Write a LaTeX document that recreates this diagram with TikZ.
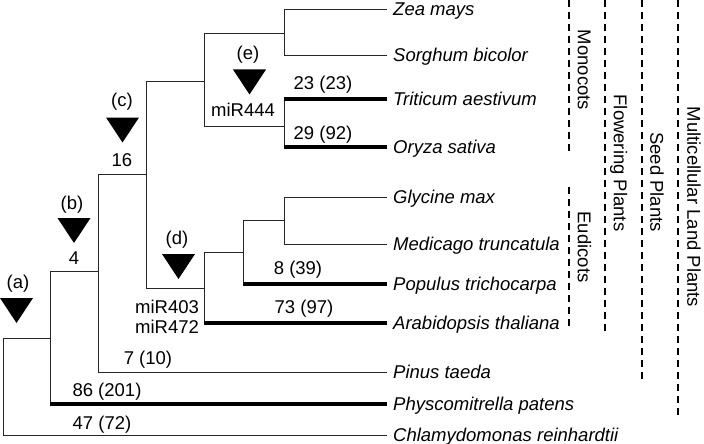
\documentclass[tikz,border=0pt]{standalone}
\usepackage{fontspec}
\setmainfont{Liberation Sans}
\usepackage{tikz}
\usetikzlibrary{positioning}
\newcommand{\treefont}{\fontsize{18.5}{21}\selectfont}
\tikzstyle{branch} = [line width=0.8pt, draw=black!85]
\tikzstyle{gain} = [line width=4pt, draw=black]
\tikzstyle{taxon} = [anchor=west, inner xsep=6pt, inner ysep=0pt, font=\treefont\itshape]
\tikzstyle{count} = [inner sep=0pt]
\tikzstyle{loss} = [fill=black]
\tikzstyle{clade} = [line width=2pt, dash pattern=on 7pt off 5pt]
\tikzstyle{cladename} = [rotate=-90, inner sep=0pt]

\begin{document}
\begin{tikzpicture}[x=1pt, y=-1pt, font=\treefont,
	every node/.append style={text height=13.2pt, text depth=0pt}]
	\useasboundingbox (0,0) rectangle (704,444);

	% leaves
	\node(zea) at (387, 9) [taxon] {Zea mays};
	\node(sorghum) at (387, 55) [taxon] {Sorghum bicolor};
	\node(triticum) at (387, 99) [taxon] {Triticum aestivum};
	\node(oryza) at (387, 147) [taxon] {Oryza sativa};
	\node(glycine) at (387, 197) [taxon] {Glycine max};
	\node(medicago) at (387, 244) [taxon] {Medicago truncatula};
	\node(populus) at (387, 284) [taxon] {Populus trichocarpa};
	\node(arabidopsis) at (387, 323) [taxon] {Arabidopsis thaliana};
	\node(pinus) at (387, 372) [taxon] {Pinus taeda};
	\node(physco) at (387, 404) [taxon] {Physcomitrella patens};
	\node(chlamy) at (387, 435) [taxon] {Chlamydomonas reinhardtii};

	% internal nodes
	\coordinate(root) at (3, 386);
	\coordinate(land) at (50, 338);
	\coordinate(seed) at (98, 271);
	\coordinate(flower) at (146, 174);
	\coordinate(mono) at (204, 81);
	\coordinate(zs) at (284, 33);
	\coordinate(to) at (284, 126);
	\coordinate(eud) at (204, 288);
	\coordinate(gmp) at (243, 252);
	\coordinate(gm) at (284, 220);

	% verticals
	\draw [branch] (root |- land) -- (root |- chlamy.west);
	\draw [branch] (land |- seed) -- (land |- physco.west);
	\draw [branch] (seed |- flower) -- (seed |- pinus.west);
	\draw [branch] (flower |- mono) -- (flower |- eud);
	\draw [branch] (mono |- zs) -- (mono |- to);
	\draw [branch] (zs |- zea.west) -- (zs |- sorghum.west);
	\draw [branch] (to |- triticum.west) -- (to |- oryza.west);
	\draw [branch] (eud |- gmp) -- (eud |- arabidopsis.west);
	\draw [branch] (gmp |- gm) -- (gmp |- populus.west);
	\draw [branch] (gm |- glycine.west) -- (gm |- medicago.west);

	% horizontals
	\draw [branch] (root |- land) -- (land);
	\draw [branch] (root |- chlamy.west) -- (chlamy.west);
	\draw [branch] (land |- seed) -- (seed);
	\draw [gain] (land |- physco.west) -- (physco.west);
	\draw [branch] (seed |- flower) -- (flower);
	\draw [branch] (seed |- pinus.west) -- (pinus.west);
	\draw [branch] (flower |- mono) -- (mono);
	\draw [branch] (flower |- eud) -- (eud);
	\draw [branch] (mono |- zs) -- (zs);
	\draw [branch] (mono |- to) -- (to);
	\draw [branch] (zs |- zea.west) -- (zea.west);
	\draw [branch] (zs |- sorghum.west) -- (sorghum.west);
	\draw [gain] (to |- triticum.west) -- (triticum.west);
	\draw [gain] (to |- oryza.west) -- (oryza.west);
	\draw [branch] (eud |- gmp) -- (gmp);
	\draw [gain] (eud |- arabidopsis.west) -- (arabidopsis.west);
	\draw [branch] (gmp |- gm) -- (gm);
	\draw [gain] (gmp |- populus.west) -- (populus.west);
	\draw [branch] (gm |- glycine.west) -- (glycine.west);
	\draw [branch] (gm |- medicago.west) -- (medicago.west);

	% gene counts
	\node(cTri) at (323, 83) [count] {23 (23)};
	\node(cOry) at (323, 133) [count] {29 (92)};
	\node(cPop) at (298, 268) [count] {8 (39)};
	\node(cAra) at (304, 307) [count] {73 (97)};
	\node(cPin) at (148, 358) [count] {7 (10)};
	\node(cPhy) at (107, 390) [count] {86 (201)};
	\node(cChl) at (102, 423) [count] {47 (72)};

	% miRNA families
	\coordinate(ma) at (16.5, 310.5);
	\coordinate(mb) at (74, 230.5);
	\coordinate(mc) at (122.5, 130);
	\coordinate(md) at (178.5, 266.5);
	\coordinate(me) at (249.5, 82);
	\foreach \m in {ma, mb, mc, md, me}
		\fill [loss] (\m) +(-16.5,-12.5) -- +(16.5,-12.5) -- +(0,12.5) -- cycle;
	\node(la) at (18, 282) [count] {(a)};
	\node(lb) at (72, 203) [count] {(b)};
	\node(lc) at (122, 100) [count] {(c)};
	\node(ld) at (177, 238) [count] {(d)};
	\node(le) at (248, 53) [count] {(e)};
	\node(fb) at (74, 258) [count] {4};
	\node(fc) at (122, 160) [count] {16};
	\node(fd1) at (167, 307) [count] {miR403};
	\node(fd2) at (167, 327) [count] {miR472};
	\node(fe) at (243, 110) [count] {miR444};

	% clades
	\draw [clade] (569, 0) -- (569, 155);
	\draw [clade] (569, 187) -- (569, 328);
	\draw [clade] (605, 0) -- (605, 332);
	\draw [clade] (642, 0) -- (642, 382);
	\draw [clade] (678, 0) -- (678, 417);
	\node(monocots) at (584.5, 70) [cladename] {Monocots};
	\node(eudicots) at (584.5, 247) [cladename] {Eudicots};
	\node(flowering) at (620.5, 163) [cladename] {Flowering Plants};
	\node(seedplants) at (657, 182) [cladename] {Seed Plants};
	\node(landplants) at (694, 207) [cladename] {Multicellular Land Plants};
\end{tikzpicture}
\end{document}
